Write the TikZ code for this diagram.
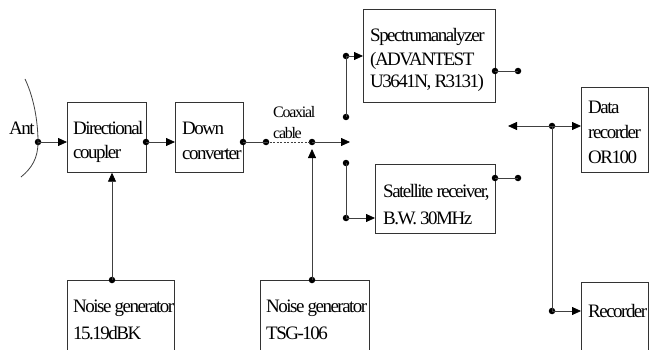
\documentclass[tikz,border=0pt]{standalone}
\usepackage{fontspec}
\newfontfamily\timesfont{Liberation Serif}[LetterSpace=-8]
\usetikzlibrary{arrows.meta}
\tikzset{
  box/.style={draw=black!80, line width=0.7pt, rectangle, inner sep=0pt},
  lbl/.style={anchor=west, inner sep=0pt, font=\timesfont\fontsize{19}{22}\selectfont},
  small/.style={font=\timesfont\fontsize{16}{18}\selectfont},
  wire/.style={draw=black!75, line width=0.8pt},
  arr/.style={wire, -{Triangle[length=9pt,width=8pt,color=black]}},
  dot/.style={circle, fill=black, inner sep=0pt, minimum size=6.5pt},
}
\begin{document}
\begin{tikzpicture}[x=1pt,y=-1pt]
\useasboundingbox (0,0) rectangle (650,350);
\clip (0,0) rectangle (650,350);
% boxes
\node[box, minimum width=79pt, minimum height=70pt, anchor=north west] (dc) at (67,102) {};
\node[box, minimum width=68pt, minimum height=70pt, anchor=north west] (dnc) at (175,102) {};
\node[box, minimum width=132pt, minimum height=93pt, anchor=north west] (sa) at (363,9) {};
\node[box, minimum width=120pt, minimum height=69pt, anchor=north west] (sr) at (375,164) {};
\node[box, minimum width=67pt, minimum height=85pt, anchor=north west] (drec) at (581,87) {};
\node[box, minimum width=67pt, minimum height=90pt, anchor=north west] (rec) at (581,282) {};
\node[box, minimum width=107pt, minimum height=90pt, anchor=north west] (ng1) at (67,280) {};
\node[box, minimum width=109pt, minimum height=90pt, anchor=north west] (ng2) at (260,280) {};
% texts
\node[lbl] (tant) at (9,128) {Ant};
\node[lbl] (tdc1) at (73,128) {Directional};
\node[lbl] (tdc2) at (73,154) {coupler};
\node[lbl] (tdn1) at (182,128) {Down};
\node[lbl] (tdn2) at (182,154) {converter};
\node[lbl, small] (tcx1) at (273,112) {Coaxial};
\node[lbl, small] (tcx2) at (273,133) {cable};
\node[lbl] (tsa1) at (370,37) {Spectrumanalyzer};
\node[lbl] (tsa2) at (370,61) {(ADVANTEST};
\node[lbl] (tsa3) at (370,83) {U3641N, R3131)};
\node[lbl] (tsr1) at (383,192) {Satellite receiver,};
\node[lbl] (tsr2) at (383,218) {B.W. 30MHz};
\node[lbl] (tdr1) at (588,107) {Data};
\node[lbl] (tdr2) at (588,132) {recorder};
\node[lbl] (tdr3) at (588,157) {OR100};
\node[lbl] (trec) at (588,311) {Recorder};
\node[lbl] (tng1a) at (73,308) {Noise generator};
\node[lbl] (tng1b) at (73,333) {15.19dBK};
\node[lbl] (tng2a) at (266,308) {Noise generator};
\node[lbl] (tng2b) at (266,333) {TSG-106};
% antenna
\coordinate (antTop) at (25,79);
\coordinate (antBot) at (21,177);
\node[dot] (dant) at (38,142) {};
\draw[wire] (antTop) .. controls (35,100) and (38,125) .. (dant.center) .. controls (38,158) and (32,168) .. (antBot);
% dots
\node[dot] (ddc) at (146,142) {};
\node[dot] (ddn) at (243,142) {};
\node[dot] (dc1) at (266,142) {};
\node[dot] (dc2) at (312,142) {};
\coordinate (mainEnd) at (350,142);
\node[dot] (du1) at (346,117) {};
\node[dot] (du2) at (346,56) {};
\node[dot] (dl1) at (346,163) {};
\node[dot] (dl2) at (346,218) {};
\node[dot] (dsa1) at (495,71) {};
\node[dot] (dsa2) at (518,71) {};
\node[dot] (dsr1) at (495,178) {};
\node[dot] (dsr2) at (518,178) {};
\node[dot] (dbi) at (552,126) {};
\node[dot] (drc) at (552,311) {};
\node[dot] (dng1) at (112,280) {};
\node[dot] (dng2) at (312,280) {};
\coordinate (biLeft) at (508,126);
\coordinate (ng2end) at (312,149);
% connectors
\draw[arr] (dant.center) -- (dc.west |- dant);
\draw[arr] (ddc.center) -- (dnc.west |- ddc);
\draw[wire] (ddn.center) -- (dc1.center);
\draw[wire, dashed, dash pattern=on 2pt off 1.5pt] (dc1.center) -- (dc2.center);
\draw[arr] (dc2.center) -- (mainEnd);
\draw[arr] (dng1.center) -- (dc.south -| dng1);
\draw[arr] (dng2.center) -- (ng2end);
\draw[wire] (du1.center) -- (du2.center);
\draw[arr] (du2.center) -- (sa.west |- du2);
\draw[wire] (dl1.center) -- (dl2.center);
\draw[arr] (dl2.center) -- (sr.west |- dl2);
\draw[wire] (dsa1.center) -- (dsa2.center);
\draw[wire] (dsr1.center) -- (dsr2.center);
\draw[arr] (dbi.center) -- (biLeft);
\draw[arr] (dbi.center) -- (drec.west |- dbi);
\draw[wire] (dbi.center) -- (drc.center);
\draw[arr] (drc.center) -- (rec.west |- drc);
\end{tikzpicture}
\end{document}
